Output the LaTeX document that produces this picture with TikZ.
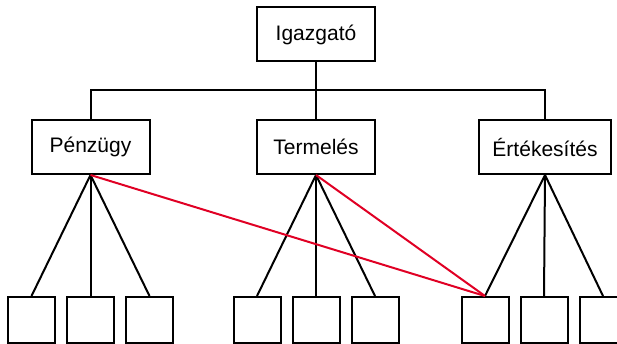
\documentclass[tikz,border=0pt]{standalone}
\usepackage{fontspec}
\setmainfont{Liberation Sans}
\usetikzlibrary{positioning}
\definecolor{orgred}{RGB}{224,0,36}

\begin{document}
\begin{tikzpicture}[x=1pt,y=-1pt,line width=2pt,
    every node/.style={font=\fontsize{21}{25}\selectfont},
    unitbox/.style={draw,minimum width=118pt,minimum height=54pt,inner sep=0pt},
    smallbox/.style={draw,minimum width=47pt,minimum height=46pt,inner sep=0pt}]
  \useasboundingbox (0,0) rectangle (617,344);
  \clip (0,0) rectangle (617,344);
  % top and department boxes
  \node[unitbox] (dir) at (316,34.5) {Igazgató};
  \node[unitbox] (fin) at (90.5,147) {Pénzügy};
  \node[unitbox] (prod) at (316,147) {Termelés};
  \node[unitbox,minimum width=132pt] (sal) at (545,147) {Értékesítés};
  \coordinate (bus) at (316,90);
  \draw (dir.south) -- (prod.north);
  \draw (fin.north) |- (bus) -| (sal.north);
  % sub-units
  \node[smallbox] (f2) at (fin |- 0,320) {};
  \node[smallbox,left=10pt of f2] (f1) {};
  \node[smallbox,right=10pt of f2] (f3) {};
  \node[smallbox] (p2) at (prod |- 0,320) {};
  \node[smallbox,left=10pt of p2] (p1) {};
  \node[smallbox,right=10pt of p2] (p3) {};
  \node[smallbox] (s2) at (544,320) {};
  \node[smallbox,left=10pt of s2] (s1) {};
  \node[smallbox,right=10pt of s2] (s3) {};
  \foreach \d/\u in {fin/f,prod/p,sal/s}
    \foreach \i in {1,2,3}
      \draw (\d.south) -- (\u\i.north);
  % cross links
  \draw[orgred] (fin.south) -- (s1.north);
  \draw[orgred] (prod.south) -- (s1.north);
\end{tikzpicture}
\end{document}
